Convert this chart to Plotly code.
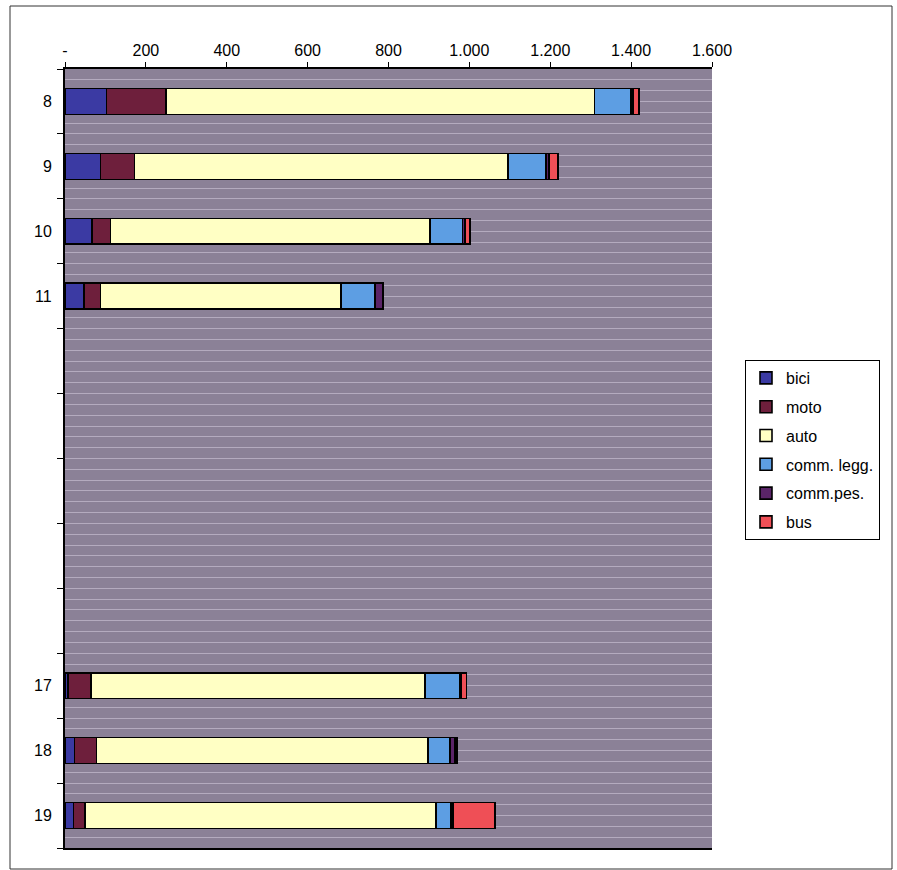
import plotly.graph_objects as go

# Hourly traffic counts by vehicle class (hours 12-16 not surveyed)
hours = [8, 9, 10, 11, 12, 13, 14, 15, 16, 17, 18, 19]
hour_labels = ["8", "9", "10", "11", "", "", "", "", "", "17", "18", "19"]

bici = [103, 88, 67, 47, None, None, None, None, None, 8, 23, 21]
moto = [147, 84, 46, 41, None, None, None, None, None, 56, 55, 28]
auto = [1059, 924, 790, 594, None, None, None, None, None, 826, 820, 868]
comm_legg = [91, 93, 80, 85, None, None, None, None, None, 87, 54, 38]
comm_pes = [4, 8, 6, 19, None, None, None, None, None, 4, 12, 5]
bus = [16, 22, 12, 0, None, None, None, None, None, 12, 5, 103]

x_ticks = [0, 200, 400, 600, 800, 1000, 1200, 1400, 1600]
x_tick_text = ["-", "200", "400", "600", "800", "1.000", "1.200", "1.400", "1.600"]

series = [
    ("bici", bici, "#3b3aa3"),
    ("moto", moto, "#6e1f3c"),
    ("auto", auto, "#ffffc4"),
    ("comm. legg.", comm_legg, "#5d9ee3"),
    ("comm.pes.", comm_pes, "#5a2468"),
    ("bus", bus, "#ef4f56"),
]

pos = list(range(len(hours)))
boundaries = [p - 0.5 for p in pos] + [pos[-1] + 0.5]
FONT = "Arial, Liberation Sans, sans-serif"
GRID = "#b4abbf"

fig = go.Figure()
for name, vals, color in series:
    fig.add_trace(go.Bar(
        y=pos, x=vals, name=name, orientation="h",
        marker=dict(color=color, line=dict(color="black", width=1.6)),
        legendgroup=name,
    ))

L, R, T, B = 65, 185, 69, 22
W, H = 897, 870
pw, ph = W - L - R, H - T - B

fig.update_layout(
    width=W, height=H,
    margin=dict(l=L, r=R, t=T, b=B),
    barmode="stack", bargap=0.6,
    plot_bgcolor="#8b8197", paper_bgcolor="white",
    font=dict(family=FONT, size=16, color="black"),
    xaxis=dict(
        side="top", range=[0, 1600], tickmode="array",
        tickvals=x_ticks, ticktext=x_tick_text,
        ticks="outside", ticklen=5, tickcolor="black",
        showline=True, linecolor="black", linewidth=2, mirror=True,
        showgrid=False, zeroline=False,
        tickfont=dict(size=16),
    ),
    yaxis=dict(
        range=[len(hours) - 0.5, -0.5], tickmode="array",
        tickvals=boundaries, ticktext=[""] * len(boundaries),
        ticks="outside", ticklen=6, tickcolor="black",
        showline=True, linecolor="black", linewidth=1.5,
        showgrid=True, gridcolor=GRID, gridwidth=1,
        zeroline=False,
        minor=dict(tickmode="linear", tick0=-0.5, dtick=1 / 6,
                   ticks="", showgrid=True, gridcolor=GRID, gridwidth=1),
    ),
    legend=dict(
        x=(745 - L) / pw, y=(T + ph - 360) / ph, xanchor="left", yanchor="top",
        bgcolor="white", bordercolor="black", borderwidth=1,
        font=dict(size=16), traceorder="grouped", tracegroupgap=5,
        itemwidth=30,
    ),
    showlegend=True,
)

# hour labels beside each bar row
for p, lab in zip(pos, hour_labels):
    if lab:
        fig.add_annotation(
            x=0, xref="paper", y=p, yref="y", text=lab, showarrow=False,
            xanchor="right", yanchor="middle", xshift=-11,
            font=dict(size=16, color="black"),
        )

# outer frame around the chart
fig.add_shape(
    type="rect", xref="paper", yref="paper",
    x0=(10 - L) / pw, x1=(892 - L) / pw,
    y0=-(869 - (T + ph)) / ph, y1=(T + ph - 6) / ph,
    line=dict(color="#333333", width=1), layer="below",
)

fig.write_html("out.html")
